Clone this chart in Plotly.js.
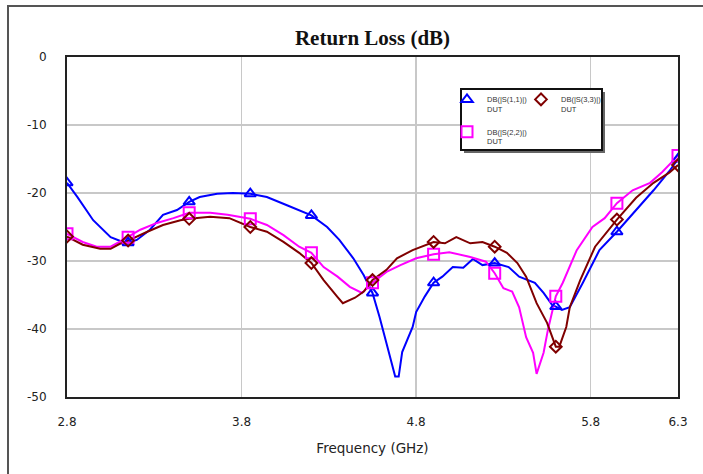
<!DOCTYPE html>
<html>
<head>
<meta charset="utf-8">
<script src="https://cdn.plot.ly/plotly-3.0.1.min.js"></script>
<style>html,body{margin:0;padding:0;background:#fff;}#chart{width:703px;height:474px;}</style>
</head>
<body>
<div id="chart"></div>
<script>
// Frequencies (GHz) and return loss (dB)
var s11Freq = [2.80,2.86,2.95,3.05,3.12,3.15,3.20,3.275,3.35,3.43,3.50,3.56,3.66,3.75,3.85,3.945,4.06,4.20,4.29,4.36,4.44,4.50,4.55,4.59,4.63,4.68,4.70,4.72,4.78,4.80,4.85,4.90,4.95,5.01,5.07,5.125,5.18,5.25,5.33,5.39,5.48,5.53,5.58,5.60,5.635,5.68,5.755,5.85,5.95,6.06,6.16,6.25,6.30];
var s11dB   = [-18.5,-20.6,-24.0,-26.5,-27.2,-27.3,-26.9,-25.4,-23.2,-22.5,-21.3,-20.6,-20.1,-20.0,-20.1,-20.6,-21.8,-23.3,-25.0,-26.9,-29.6,-32.1,-34.7,-38.2,-42.1,-47.0,-47.0,-43.4,-39.7,-37.5,-35.2,-33.2,-32.3,-30.9,-31.0,-29.7,-30.6,-30.3,-30.9,-32.3,-33.2,-34.7,-36.5,-36.7,-37.2,-36.8,-33.2,-28.4,-25.7,-22.5,-19.6,-16.8,-15.0];

var s22Freq = [2.80,2.89,2.97,3.05,3.10,3.15,3.22,3.315,3.41,3.50,3.62,3.72,3.85,3.945,4.04,4.13,4.20,4.27,4.35,4.42,4.49,4.55,4.63,4.71,4.80,4.90,4.99,5.11,5.20,5.25,5.30,5.35,5.39,5.43,5.47,5.49,5.53,5.555,5.585,5.60,5.64,5.72,5.81,5.88,5.95,6.04,6.14,6.21,6.30];
var s22dB   = [-26.0,-27.2,-27.9,-27.9,-27.2,-26.5,-25.4,-24.4,-23.7,-22.9,-22.9,-23.2,-23.8,-24.7,-26.2,-27.9,-28.8,-30.9,-32.3,-33.8,-34.7,-33.2,-31.6,-30.6,-29.6,-29.0,-28.7,-29.4,-30.1,-31.8,-34.0,-34.5,-36.8,-41.2,-43.5,-46.6,-43.5,-40.1,-36.8,-35.2,-33.2,-28.4,-25.0,-23.7,-21.5,-19.6,-18.5,-16.9,-14.5];

var s33Freq = [2.80,2.89,2.99,3.05,3.10,3.15,3.26,3.35,3.45,3.50,3.62,3.73,3.85,3.945,4.04,4.13,4.20,4.27,4.35,4.38,4.45,4.50,4.55,4.63,4.69,4.78,4.90,4.965,5.03,5.11,5.18,5.25,5.32,5.38,5.43,5.49,5.55,5.60,5.62,5.66,5.68,5.74,5.825,5.89,5.95,6.06,6.16,6.25,6.30];
var s33dB   = [-26.4,-27.6,-28.2,-28.2,-27.5,-27.0,-25.7,-24.7,-24.0,-23.8,-23.5,-23.7,-25.0,-25.7,-27.2,-28.8,-30.3,-32.8,-35.3,-36.2,-35.4,-34.5,-32.8,-31.3,-29.6,-28.4,-27.2,-27.4,-26.5,-27.4,-27.2,-27.9,-28.8,-30.3,-32.3,-36.2,-39.1,-42.6,-42.6,-39.7,-36.8,-32.8,-27.9,-25.9,-23.9,-20.7,-18.5,-17.0,-15.9];

// Frequencies at which the simulator drew its markers
var markerFreqs = [2.80,3.15,3.50,3.85,4.20,4.55,4.90,5.25,5.60,5.95,6.30];

var xTickVals  = [2.8,3.8,4.8,5.8,6.3];
var xTickText  = ['2.8','3.8','4.8','5.8','6.3'];
var yTickVals  = [0,-10,-20,-30,-40,-50];
var yTickText  = ['0','-10','-20','-30','-40','-50'];

var seriesNames = ['DB(|S(1,1)|)<br>DUT<br>\u00A0','DB(|S(2,2)|)<br>DUT<br>\u00A0','DB(|S(3,3)|)<br>DUT<br>\u00A0'];

function pickMarkers(f, v) {
  var mx = [], my = [];
  for (var i = 0; i < f.length; i++) {
    for (var j = 0; j < markerFreqs.length; j++) {
      if (Math.abs(f[i] - markerFreqs[j]) < 1e-6) { mx.push(f[i]); my.push(v[i]); }
    }
  }
  return {x: mx, y: my};
}

var specs = [
  {f: s11Freq, v: s11dB, color: '#0000ff', sym: 'triangle-up-open', size: 10, group: 'g1', name: seriesNames[0], lw: 29},
  {f: s22Freq, v: s22dB, color: '#ff00ff', sym: 'square-open', size: 11, group: 'g1', name: seriesNames[1], lw: 29},
  {f: s33Freq, v: s33dB, color: '#800000', sym: 'diamond-open', size: 9, group: 'g2', name: seriesNames[2], lw: 60}
];

var traces = [];
specs.forEach(function(s) {
  traces.push({x: s.f, y: s.v, type: 'scatter', mode: 'lines', showlegend: false,
    legendgroup: s.group, line: {color: s.color, width: 2}, hoverinfo: 'skip'});
});
specs.forEach(function(s) {
  var m = pickMarkers(s.f, s.v);
  traces.push({x: m.x, y: m.y, type: 'scatter', mode: 'markers', name: s.name,
    legendgroup: s.group, showlegend: true, legendwidth: s.lw,
    marker: {symbol: s.sym, size: s.size, color: s.color, line: {color: s.color, width: 2}}});
});

function px2x(p) { return (p - 67) / 611; }
function py2y(p) { return (397 - p) / 340; }

var layout = {
  width: 703, height: 474,
  margin: {l: 67, r: 25, t: 57, b: 77},
  paper_bgcolor: '#ffffff', plot_bgcolor: '#ffffff',
  font: {family: 'DejaVu Sans, Verdana, sans-serif', color: '#222'},
  title: {text: 'Return Loss (dB)', font: {family: 'Liberation Serif, Times New Roman, serif', size: 21, color: '#111', weight: 'bold'},
          x: 0.5, xref: 'paper', xanchor: 'center', y: 1 - 38/474, yref: 'container', yanchor: 'middle'},
  xaxis: {range: [2.8, 6.3], tickmode: 'array', tickvals: xTickVals, ticktext: xTickText,
          showgrid: true, gridcolor: '#c8c8c8', gridwidth: 1.5, zeroline: false,
          showline: true, mirror: true, linecolor: '#222', linewidth: 2, ticks: '',
          ticklabelstandoff: 13, tickfont: {size: 12, color: '#222'},
          title: {text: 'Frequency (GHz)', font: {size: 13.5, color: '#222'}, standoff: 15}},
  yaxis: {range: [-50, 0], tickmode: 'array', tickvals: yTickVals, ticktext: yTickText,
          showgrid: true, gridcolor: '#c8c8c8', gridwidth: 1.5, zeroline: false,
          showline: true, mirror: true, linecolor: '#222', linewidth: 2, ticks: '',
          ticklabelstandoff: 16, tickfont: {size: 12, color: '#222'}},
  legend: {orientation: 'h', traceorder: 'grouped', valign: 'top', x: px2x(447), y: py2y(88), xanchor: 'left', yanchor: 'top',
           bgcolor: 'rgba(0,0,0,0)', borderwidth: 0, itemwidth: 30, tracegroupgap: 0,
           font: {size: 7.5, color: '#333', family: 'Liberation Sans, Arial, sans-serif'}},
  shapes: [
    {type: 'rect', xref: 'paper', yref: 'paper', x0: px2x(8), x1: px2x(712), y0: py2y(490), y1: py2y(6),
     line: {color: '#555', width: 2}, fillcolor: 'rgba(0,0,0,0)', layer: 'below'},
    {type: 'rect', xref: 'paper', yref: 'paper', x0: px2x(464), x1: px2x(605), y0: py2y(153), y1: py2y(92),
     line: {color: '#666', width: 0}, fillcolor: '#666', layer: 'above'},
    {type: 'rect', xref: 'paper', yref: 'paper', x0: px2x(461), x1: px2x(602), y0: py2y(150), y1: py2y(89),
     line: {color: '#111', width: 2}, fillcolor: '#ffffff', layer: 'above'}
  ],
  hovermode: false
};

Plotly.newPlot('chart', traces, layout, {displayModeBar: false, staticPlot: true});
</script>
</body>
</html>
